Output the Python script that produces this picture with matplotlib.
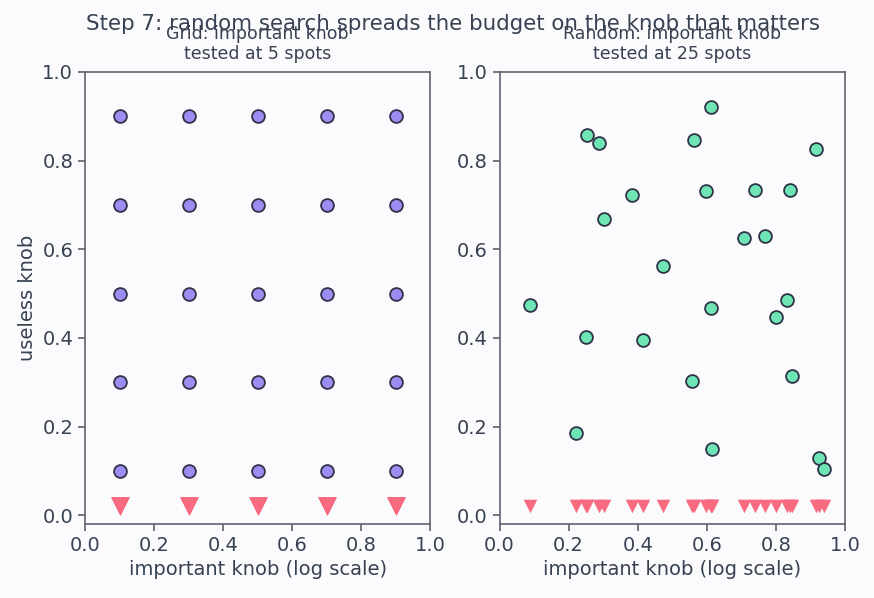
import numpy as np
import matplotlib.pyplot as plt

# grid search: 5 x 5
grid_vals = [0.1, 0.3, 0.5, 0.7, 0.9]

# random search: 25 points
rand_x = [0.087, 0.254, 0.289, 0.301, 0.384, 0.474, 0.564, 0.613, 0.598, 0.740,
          0.841, 0.916, 0.708, 0.769, 0.249, 0.416, 0.613, 0.801, 0.832, 0.558,
          0.847, 0.220, 0.616, 0.925, 0.939]
rand_y = [0.475, 0.858, 0.840, 0.669, 0.722, 0.563, 0.847, 0.921, 0.732, 0.734,
          0.734, 0.827, 0.626, 0.631, 0.403, 0.396, 0.468, 0.448, 0.486, 0.302,
          0.313, 0.185, 0.149, 0.128, 0.104]

text_col = "#374151"
spine_col = "#5f6272"
bg = "#fbfbfe"
purple = "#9d8cf2"
green = "#6ee5b5"
red = "#f76a80"
edge = "#2f3347"

plt.rcParams.update({
    "font.family": "DejaVu Sans",
    "text.color": text_col,
    "axes.labelcolor": text_col,
    "xtick.color": text_col,
    "ytick.color": text_col,
    "axes.edgecolor": spine_col,
    "figure.facecolor": bg,
    "axes.facecolor": bg,
})

fig, (ax1, ax2) = plt.subplots(1, 2, figsize=(8.74, 5.98), dpi=100)
fig.subplots_adjust(left=0.0973, right=0.9668, top=0.8796, bottom=0.1237, wspace=0.2)

gx, gy = np.meshgrid(grid_vals, grid_vals)
ax1.scatter(gx.ravel(), gy.ravel(), s=85, color=purple, edgecolor=edge, linewidth=1.3, zorder=3)
ax1.scatter(gx.ravel(), np.full(gx.size, 0.02), marker="v", s=170, color=red, linewidth=0, zorder=2)
ax1.set_title("Grid: important knob\ntested at 5 spots", fontsize=12.5, color=text_col, pad=9)
ax1.set_ylabel("useless knob", fontsize=14)

ax2.scatter(rand_x, rand_y, s=85, color=green, edgecolor=edge, linewidth=1.3, zorder=3)
ax2.scatter(rand_x, np.full(len(rand_x), 0.02), marker="v", s=95, color=red, linewidth=0, zorder=2)
ax2.set_title("Random: important knob\ntested at 25 spots", fontsize=12.5, color=text_col, pad=9)

for ax in (ax1, ax2):
    ax.set_xlim(0, 1)
    ax.set_ylim(-0.02, 1.0)
    ax.set_xticks(np.arange(0, 1.01, 0.2))
    ax.set_yticks(np.arange(0, 1.01, 0.2))
    ax.tick_params(labelsize=14, length=5, width=1.2, color=spine_col)
    ax.set_xlabel("important knob (log scale)", fontsize=14)
    for s in ax.spines.values():
        s.set_linewidth(1.2)

fig.suptitle("Step 7: random search spreads the budget on the knob that matters",
             fontsize=15.4, x=0.518, y=0.976, color=text_col)

fig.savefig("out.png", dpi=100, facecolor=bg)
